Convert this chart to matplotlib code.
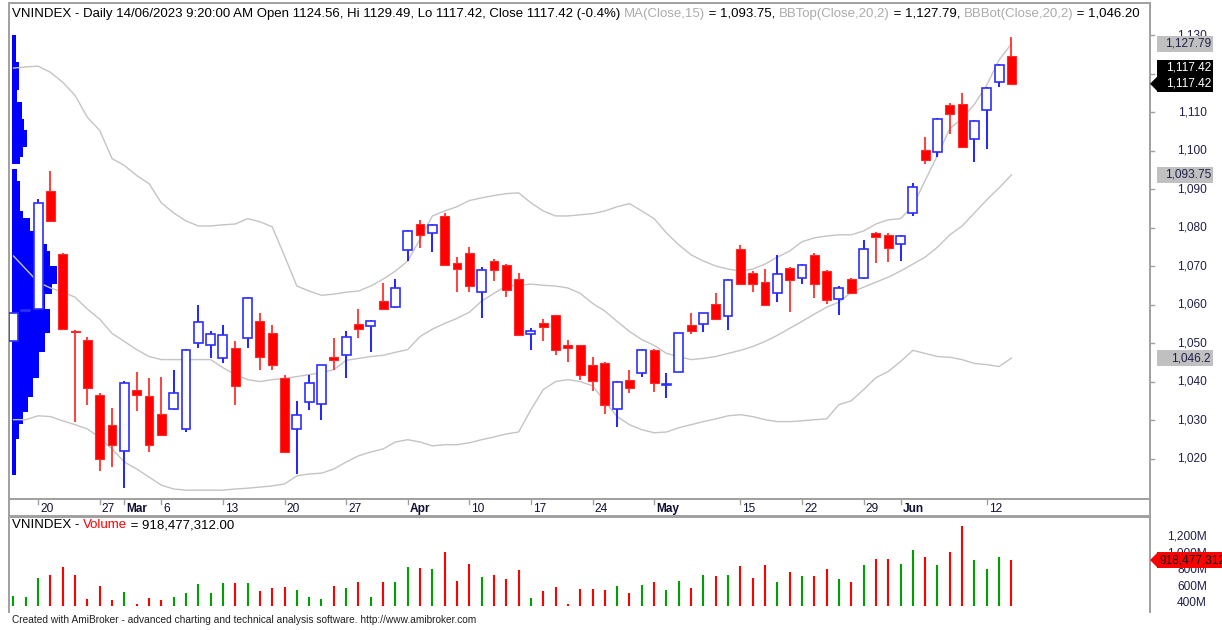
import matplotlib
matplotlib.use('Agg')
import matplotlib.pyplot as plt
import matplotlib.transforms as mtransforms
from matplotlib.patches import Rectangle, Polygon
import pandas as pd

plt.rcParams['font.family'] = ['Liberation Sans', 'DejaVu Sans']

# ---------------- data ----------------
holidays = ['2023-05-01', '2023-05-02', '2023-05-03']
dates = [d for d in pd.bdate_range('2023-02-16', '2023-06-14')
         if d.strftime('%Y-%m-%d') not in holidays]

opens = [1050.5, 1058.4, 1058.9, 1089.7, 1073.2, 1053.3, 1050.8, 1036.7, 1028.9, 1022.1,
         1038.0, 1036.4, 1031.7, 1033.0, 1027.8, 1050.0, 1049.7, 1046.1, 1048.7, 1051.3,
         1055.7, 1052.6, 1041.1, 1027.8, 1034.9, 1034.3, 1046.6, 1047.1, 1055.0, 1054.4,
         1061.0, 1059.4, 1074.3, 1081.0, 1078.7, 1083.1, 1070.9, 1073.5, 1063.3, 1071.4,
         1070.4, 1066.7, 1052.4, 1055.2, 1057.3, 1049.5, 1049.5, 1044.5, 1045.0, 1033.0,
         1040.6, 1042.4, 1048.4, 1039.2, 1042.7, 1054.7, 1055.0, 1060.2, 1057.0, 1074.5,
         1068.3, 1065.9, 1063.0, 1069.6, 1067.0, 1073.0, 1068.8, 1061.5, 1066.7, 1067.0,
         1078.7, 1078.2, 1075.8, 1083.9, 1100.1, 1099.8, 1111.8, 1112.1, 1103.2, 1110.5,
         1117.8, 1124.56]
highs = [1058.0, 1059.0, 1087.6, 1094.9, 1073.4, 1053.5, 1051.6, 1037.0, 1033.3, 1040.2,
         1042.7, 1040.9, 1041.4, 1043.2, 1048.6, 1059.9, 1053.1, 1054.7, 1050.5, 1062.0,
         1057.8, 1054.7, 1041.7, 1035.1, 1041.9, 1044.5, 1051.3, 1053.1, 1058.9, 1056.0,
         1065.7, 1066.7, 1079.5, 1082.1, 1081.0, 1083.9, 1072.4, 1075.0, 1069.8, 1071.9,
         1070.6, 1068.3, 1053.9, 1056.3, 1057.5, 1050.8, 1049.7, 1046.4, 1045.2, 1040.3,
         1043.2, 1048.6, 1048.6, 1042.2, 1052.8, 1057.8, 1058.0, 1063.0, 1066.6, 1075.6,
         1068.8, 1069.3, 1073.0, 1069.8, 1070.6, 1073.5, 1069.0, 1064.9, 1067.0, 1076.9,
         1079.0, 1078.7, 1078.1, 1091.7, 1103.7, 1108.6, 1112.4, 1115.0, 1107.9, 1116.5,
         1122.5, 1129.49]
lows = [1050.3, 1058.0, 1058.5, 1081.6, 1053.5, 1029.7, 1034.1, 1016.9, 1017.9, 1012.4,
        1032.5, 1021.8, 1026.0, 1032.8, 1027.0, 1048.7, 1046.1, 1044.8, 1034.1, 1048.7,
        1043.2, 1043.0, 1021.5, 1016.1, 1032.8, 1030.2, 1043.2, 1041.1, 1051.3, 1047.7,
        1058.6, 1059.2, 1071.4, 1074.8, 1073.7, 1070.2, 1063.3, 1063.3, 1056.5, 1066.2,
        1062.0, 1052.0, 1048.4, 1050.5, 1046.9, 1045.3, 1040.6, 1037.7, 1031.7, 1028.3,
        1037.0, 1041.4, 1037.5, 1035.9, 1042.5, 1052.4, 1052.9, 1056.0, 1053.4, 1065.2,
        1063.3, 1059.7, 1060.7, 1058.1, 1065.4, 1061.7, 1060.2, 1057.3, 1062.8, 1066.8,
        1070.9, 1071.1, 1071.4, 1083.1, 1096.7, 1098.5, 1104.5, 1100.9, 1097.2, 1100.4,
        1116.5, 1117.42]
closes = [1057.8, 1058.7, 1086.5, 1081.8, 1053.7, 1052.9, 1038.5, 1020.0, 1023.7, 1039.8,
          1036.7, 1023.7, 1026.3, 1037.0, 1048.4, 1055.5, 1052.4, 1052.1, 1039.0, 1061.7,
          1046.6, 1044.3, 1021.8, 1031.5, 1039.8, 1044.3, 1045.8, 1051.6, 1053.7, 1055.7,
          1058.9, 1064.4, 1079.2, 1078.2, 1080.8, 1070.4, 1069.3, 1064.9, 1069.0, 1069.0,
          1063.8, 1052.1, 1053.1, 1054.2, 1048.2, 1048.7, 1041.9, 1040.3, 1034.1, 1040.1,
          1038.5, 1048.4, 1039.6, 1039.5, 1052.6, 1053.1, 1057.8, 1056.3, 1066.4, 1065.4,
          1065.4, 1059.9, 1068.0, 1066.4, 1070.4, 1065.4, 1061.2, 1064.4, 1063.0, 1074.5,
          1077.7, 1074.8, 1077.9, 1090.7, 1097.7, 1108.4, 1109.5, 1101.1, 1107.7, 1116.3,
          1122.2, 1117.42]
volume_m = [494, 482, 700, 740, 837, 740, 459, 603, 447, 540,
            390, 470, 447, 482, 529, 630, 529, 642, 642, 642,
            552, 580, 591, 564, 482, 459, 603, 580, 654, 482,
            654, 661, 837, 821, 810, 1017, 665, 868, 716, 736,
            693, 798, 470, 552, 591, 390, 576, 576, 556, 603,
            529, 626, 654, 564, 673, 580, 736, 724, 736, 845,
            700, 856, 661, 771, 724, 732, 810, 689, 661, 856,
            931, 931, 868, 1040, 950, 856, 1013, 1325, 915, 810,
            950, 918.477312]
bb_top = [1121.5, 1121.8, 1122.0, 1120.4, 1117.8, 1114.4, 1108.7, 1105.3, 1098.0, 1096.2,
          1093.6, 1091.5, 1086.5, 1083.9, 1081.8, 1080.5, 1080.5, 1080.8, 1081.0, 1082.4,
          1081.6, 1080.3, 1072.7, 1064.9, 1063.6, 1062.5, 1062.8, 1063.3, 1063.6, 1064.9,
          1066.7, 1068.8, 1071.4, 1077.1, 1083.1, 1084.4, 1085.5, 1087.1, 1087.8, 1088.4,
          1088.9, 1089.1, 1086.5, 1084.4, 1083.1, 1083.1, 1083.4, 1083.7, 1084.4, 1085.5,
          1086.3, 1084.4, 1082.4, 1078.7, 1075.6, 1073.0, 1071.4, 1070.1, 1069.3, 1068.8,
          1069.3, 1070.6, 1072.4, 1074.0, 1076.4, 1077.4, 1077.9, 1078.2, 1078.2, 1079.2,
          1081.0, 1082.1, 1082.4, 1085.7, 1092.3, 1098.8, 1105.8, 1108.4, 1112.1, 1117.1,
          1123.6, 1127.79]
ma15 = [1072.7, 1069.3, 1065.9, 1064.4, 1063.3, 1062.0, 1058.9, 1056.3, 1052.6, 1050.5,
        1048.4, 1046.6, 1045.8, 1045.8, 1045.8, 1045.8, 1045.8, 1043.7, 1041.9, 1040.6,
        1040.1, 1040.6, 1040.9, 1041.4, 1041.9, 1042.4, 1043.2, 1045.6, 1046.1, 1046.6,
        1046.9, 1047.7, 1048.4, 1051.8, 1053.7, 1055.2, 1056.5, 1058.1, 1061.0, 1063.0,
        1064.9, 1065.1, 1065.4, 1065.1, 1064.9, 1064.4, 1063.0, 1060.4, 1058.4, 1055.7,
        1053.1, 1051.0, 1049.5, 1047.4, 1046.6, 1045.8, 1046.1, 1046.6, 1047.4, 1048.2,
        1049.2, 1050.5, 1052.1, 1053.9, 1055.7, 1057.6, 1059.4, 1060.7, 1063.3, 1064.6,
        1065.9, 1067.2, 1068.8, 1070.6, 1072.4, 1075.0, 1078.2, 1080.5, 1083.9, 1087.3,
        1090.4, 1093.75]
bb_bot = [1030.2, 1030.2, 1031.2, 1031.0, 1029.9, 1028.9, 1027.8, 1025.5, 1022.6, 1019.2,
          1017.4, 1015.3, 1013.2, 1012.2, 1011.9, 1011.9, 1011.9, 1011.9, 1012.2, 1012.4,
          1012.7, 1013.0, 1013.5, 1015.6, 1016.1, 1016.3, 1017.4, 1019.2, 1020.8, 1021.8,
          1022.6, 1024.4, 1025.0, 1024.4, 1023.4, 1023.7, 1023.7, 1024.2, 1025.0, 1025.7,
          1026.5, 1027.0, 1032.8, 1038.0, 1040.1, 1040.6, 1040.1, 1039.0, 1034.9, 1031.0,
          1028.9, 1027.6, 1026.8, 1027.0, 1028.1, 1028.9, 1029.7, 1030.4, 1031.2, 1031.5,
          1031.0, 1030.2, 1029.7, 1029.7, 1029.9, 1030.2, 1030.4, 1034.1, 1035.1, 1038.0,
          1041.1, 1042.7, 1045.3, 1048.2, 1047.4, 1046.6, 1046.4, 1045.8, 1044.8, 1044.5,
          1044.0, 1046.2]

# price-volume profile: (low price, high price, relative width)
profile_lo = [1015.8, 1025.2, 1029.1, 1032.3, 1036.2, 1040.9, 1047.9, 1052.6, 1058.9,
              1062.8, 1065.4, 1070.1, 1074.0, 1075.8, 1079.2, 1082.6, 1084.4, 1092.3,
              1096.7, 1098.3, 1100.9, 1105.3, 1108.4, 1112.6, 1115.7, 1123.0]
profile_hi = [1025.2, 1029.1, 1032.3, 1036.2, 1040.9, 1047.9, 1052.6, 1058.9, 1062.8,
              1065.4, 1070.1, 1074.0, 1075.8, 1079.2, 1082.6, 1084.4, 1092.3, 1095.4,
              1098.3, 1100.9, 1105.3, 1108.4, 1112.6, 1115.7, 1123.0, 1130.1]
profile_vol = [4, 7, 11, 16, 21, 27, 33, 38, 33, 40, 45, 38, 35, 24, 18, 11, 8, 5,
               8, 11, 15, 12, 10, 5, 7, 4]

tick_dates = ['2023-02-20', '2023-02-27', '2023-03-01', '2023-03-06', '2023-03-13',
              '2023-03-20', '2023-03-27', '2023-04-03', '2023-04-10', '2023-04-17',
              '2023-04-24', '2023-05-04', '2023-05-15', '2023-05-22', '2023-05-29',
              '2023-06-01', '2023-06-12']
tick_labels = ['20', '27', 'Mar', '6', '13', '20', '27', 'Apr', '10', '17', '24',
               'May', '15', '22', '29', 'Jun', '12']
month_names = ['Mar', 'Apr', 'May', 'Jun']
price_ticks = [1020, 1030, 1040, 1050, 1060, 1070, 1080, 1090, 1100, 1110, 1130]
vol_ticks = [400, 600, 800, 1000, 1200]

# ---------------- figure ----------------
W, H = 1222, 630
fig = plt.figure(figsize=(W / 100, H / 100), dpi=100)
fig.patch.set_facecolor('white')
PX = mtransforms.Affine2D().scale(1, -1).translate(0, H)   # pixel coords, top origin


def ax_px(l, t, r, b):
    return fig.add_axes([l / W, 1 - b / H, (r - l) / W, (b - t) / H])


XL = (-0.365, 92.25)
FRAME = '#A0A0A0'
LABC = '#20204A'
n = len(closes)
xs = list(range(n))

ax = ax_px(9, 3, 1150, 499)
axx = ax_px(9, 499, 1150, 516)
axv = ax_px(9, 517, 1150, 612)

for a in (ax, axx, axv):
    a.set_xlim(*XL)
    a.set_xticks([])
    a.set_yticks([])
    a.set_facecolor('white')
    for s in a.spines.values():
        s.set_color(FRAME)
        s.set_linewidth(1.4)
axv.spines['bottom'].set_visible(False)

ax.set_ylim(1009.6, 1138.4)
axv.set_ylim(298, 1433)
axx.set_ylim(0, 1)

# volume profile
bar_px = 12.32
for lo, hi, w in zip(profile_lo, profile_hi, profile_vol):
    ax.add_patch(Rectangle((-0.12, lo), w / bar_px, hi - lo, facecolor='#0000FF',
                           edgecolor='none', zorder=1))

# bands
for series in (bb_top, ma15, bb_bot):
    ax.plot(xs, series, color='#C4C4C4', lw=1.0, zorder=2)

# candles
bw = 0.72
for i in range(n):
    o, h, l, c = opens[i], highs[i], lows[i], closes[i]
    up = c >= o
    wick_c = '#1010FF' if up else '#FF3030'
    ax.vlines(i, l, h, color=wick_c, lw=1.3, zorder=3)
    lo_b, hi_b = min(o, c), max(o, c)
    if up:
        ax.add_patch(Rectangle((i - bw / 2, lo_b), bw, max(hi_b - lo_b, 0.05),
                               facecolor='white', edgecolor='#2E2EFF', lw=1.2, zorder=4))
    else:
        ax.add_patch(Rectangle((i - bw / 2, lo_b), bw, max(hi_b - lo_b, 0.05),
                               facecolor='#FF0000', edgecolor='#FF2A2A', lw=0.8, zorder=4))

# price ticks (right side)
for p in price_ticks + [1120]:
    ax.plot([XL[1], XL[1] + 0.3], [p, p], color=FRAME, lw=1.0, clip_on=False, zorder=1)
ytr = mtransforms.blended_transform_factory(PX, ax.transData)
for p in price_ticks:
    fig.text(1207, p, f'{p:,}', transform=ytr, ha='right', va='center',
             fontsize=8.6, color=LABC, zorder=2)

# x-axis strip
date_str = [d.strftime('%Y-%m-%d') for d in dates]
for td, lab in zip(tick_dates, tick_labels):
    i = date_str.index(td)
    axx.plot([i, i], [1, 0.72], color=FRAME, lw=1.0)
    axx.text(i + 0.17, 0.42, lab, ha='left', va='center', fontsize=8.6, color='#101030',
             fontweight='bold' if lab in month_names else 'normal')

# volume bars
vcols = ['#00A000' if closes[i] >= opens[i] else '#FF0000' for i in range(n)]
axv.vlines(xs, 372, volume_m, colors=vcols, lw=1.5)
vtr = mtransforms.blended_transform_factory(PX, axv.transData)
for v in vol_ticks:
    fig.text(1207, v, f'{v:,}M', transform=vtr, ha='right', va='center',
             fontsize=8.6, color=LABC, zorder=2)


# ---------------- right value labels ----------------
def to_px(axis, val):
    return H - axis.transData.transform((0, val))[1]


def value_label(y, text, fc, tc, arrow=False, x_left=1157, width=56, hgt=16):
    fig.add_artist(Rectangle((x_left, y - hgt / 2), width, hgt, transform=PX,
                             facecolor=fc, edgecolor='none', zorder=5))
    fig.text(x_left + width - 2, y, text, transform=PX, ha='right', va='center',
             fontsize=8.6, color=tc, zorder=6)
    if arrow:
        fig.add_artist(Polygon([[1150, y], [x_left + 1, y - 8], [x_left + 1, y + 8]],
                               closed=True, transform=PX, facecolor=fc,
                               edgecolor='none', zorder=5))


value_label(to_px(ax, bb_top[-1]), f'{bb_top[-1]:,.2f}', '#C0C0C0', '#20204A')
yc = to_px(ax, closes[-1])
value_label(yc - 16, f'{closes[-1]:,.2f}', '#000000', 'white')
value_label(yc, f'{closes[-1]:,.2f}', '#000000', 'white', arrow=True)
value_label(to_px(ax, ma15[-1]), f'{ma15[-1]:,.2f}', '#C0C0C0', '#20204A')
value_label(to_px(ax, bb_bot[-1]), f'{bb_bot[-1]:,.1f}', '#C0C0C0', '#20204A')
yv = to_px(axv, volume_m[-1])
fig.add_artist(Rectangle((1157, yv - 8), 70, 16, transform=PX, facecolor='#FF0000',
                         edgecolor='none', zorder=5))
fig.add_artist(Polygon([[1150, yv], [1158, yv - 8], [1158, yv + 8]], closed=True,
                       transform=PX, facecolor='#FF0000', edgecolor='none', zorder=5))
fig.text(1160, yv, f'{volume_m[-1] * 1e6:,.0f}', transform=PX, ha='left', va='center',
         fontsize=8.6, color='#101010', zorder=6)

# ---------------- titles ----------------
renderer = fig.canvas.get_renderer()


def rich_text(x, y, parts, fs):
    for s, col in parts:
        t = fig.text(x, y, s, transform=PX, ha='left', va='center', fontsize=fs,
                     color=col, zorder=6)
        x += t.get_window_extent(renderer).width


def fit_size(s, target):
    t = fig.text(0, 0, s, fontsize=10)
    w = t.get_window_extent(renderer).width
    t.remove()
    return 10 * target / w


chg = (closes[-1] / closes[-2] - 1) * 100
head = (f'VNINDEX - Daily 14/06/2023 9:20:00 AM Open {opens[-1]:.2f}, Hi {highs[-1]:.2f}, '
        f'Lo {lows[-1]:.2f}, Close {closes[-1]:.2f} ({chg:.1f}%) ')
fs_title = fit_size(head.rstrip(), 605)
GR = '#ABABAB'
rich_text(12, 14, [(head, 'black'), ('MA(Close,15)', GR), (f' = {ma15[-1]:,.2f}, ', 'black'),
                   ('BBTop(Close,20,2)', GR), (f' = {bb_top[-1]:,.2f}, ', 'black'),
                   ('BBBot(Close,20,2)', GR), (f' = {bb_bot[-1]:,.2f}', 'black')], fs_title)

rich_text(12, 525, [('VNINDEX - ', 'black'), ('Volume', '#FF0000'),
                    (f' = {volume_m[-1] * 1e6:,.2f}', 'black')], fs_title)

foot = ('Created with AmiBroker - advanced charting and technical analysis software. '
        'http://www.amibroker.com')
fig.text(12, 620, foot, transform=PX, ha='left', va='center',
         fontsize=fit_size(foot, 467), color='#202020')

fig.savefig('out.png', dpi=100, facecolor='white')
